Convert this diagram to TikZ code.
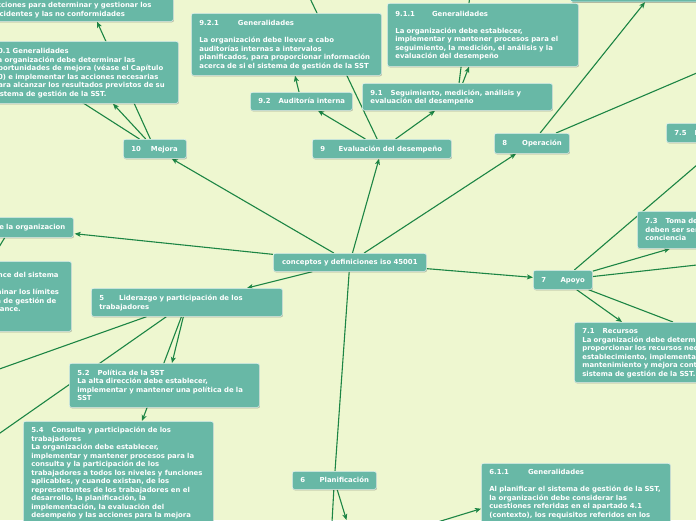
\documentclass[tikz,border=0pt]{standalone}
\usepackage{fontspec}
\setmainfont{DejaVu Sans}
\usetikzlibrary{shadows,arrows.meta,calc}
\definecolor{bgc}{RGB}{238,247,208}
\definecolor{boxc}{RGB}{104,184,166}
\definecolor{linec}{RGB}{28,133,68}
\newcommand{\gp}[1]{\hspace*{#1pt}}
\newcommand{\tl}[1]{\raisebox{0pt}[\dimexpr\height+1.6pt\relax][\depth]{\begin{tabular}{@{}l@{}}#1\end{tabular}}}
\newcommand{\tr}[1]{\raisebox{0pt}[\dimexpr\height+1.6pt\relax][\depth]{\begin{tabular}{@{}r@{}}#1\end{tabular}}}
\pgfdeclarelayer{back}
\pgfdeclarelayer{lines}
\pgfsetlayers{back,lines,main}
\begin{document}
\begin{tikzpicture}[x=1pt,y=-1pt,
  mbox/.style={draw=white!80!boxc, line width=0.7pt, fill=boxc, rounded corners=2pt,
    text=white, font=\fontsize{6.9}{8.5}\selectfont\bfseries, align=left,
    inner xsep=8pt, inner ysep=0pt, anchor=north west,
    drop shadow={shadow xshift=0.6pt,shadow yshift=-0.9pt,fill=black,opacity=0.28}},
  conn/.style={draw=linec, line width=1.1pt},
  arr/.style={conn, -{Stealth[length=6pt,width=5pt,inset=1.5pt]}},
]
\useasboundingbox (0,0) rectangle (696,520);
\begin{pgfonlayer}{back}
\fill[bgc] (0,0) rectangle (696,520);
\end{pgfonlayer}

% ---- boxes ----
\node[mbox, minimum width=189pt, minimum height=23.5pt, text width=173pt] (n102) at (-16,-2.5)
  {\tl{acciones para determinar y gestionar los\\incidentes y las no conformidades}};
\node[mbox, minimum width=193pt, minimum height=62pt, text width=177pt] (n101) at (-15,41)
  {\tl{10.1 Generalidades\\La organización debe determinar las\\oportunidades de mejora (véase el Capítulo\\10) e implementar las acciones necesarias\\para alcanzar los resultados previstos de su\\sistema de gestión de la SST.}};
\node[mbox, minimum width=190pt, minimum height=62pt, text width=174pt] (n921) at (191,13)
  {\tl{9.2.1\gp{19}Generalidades\\ \\La organización debe llevar a cabo\\auditorías internas a intervalos\\planificados, para proporcionar información\\acerca de si el sistema de gestión de la SST}};
\node[mbox, minimum width=102pt, minimum height=18pt, text width=86pt] (n92) at (250,92)
  {\tl{9.2\gp{8}Auditoría interna}};
\node[mbox, minimum width=191pt, minimum height=63pt, text width=175pt] (n911) at (387,3)
  {\tl{9.1.1\gp{17}Generalidades\\ \\La organización debe establecer,\\implementar y mantener procesos para el\\seguimiento, la medición, el análisis y la\\evaluación del desempeño}};
\node[mbox, minimum width=190pt, minimum height=27pt, text width=174pt] (n91) at (362,83)
  {\tl{9.1\gp{8}Seguimiento, medición, análisis y\\evaluación del desempeño}};
\node[mbox, minimum width=160pt, minimum height=31.5pt, text width=144pt] (ntr) at (570,-30) {};
\node[mbox, minimum width=63pt, minimum height=19pt, text width=47pt] (nmej) at (123,139)
  {\tl{10\gp{10}Mejora}};
\node[mbox, minimum width=139pt, minimum height=19pt, text width=123pt] (neval) at (312,139)
  {\tl{9\gp{13.5}Evaluación del desempeño}};
\node[mbox, minimum width=75pt, minimum height=20pt, text width=59pt] (nop) at (494,133)
  {\tl{8\gp{15}Operación}};
\node[mbox, minimum width=150pt, minimum height=19pt, text width=134pt] (n75) at (666,123)
  {\tl{7.5\gp{8}Información documentada}};
\node[mbox, minimum width=150pt, minimum height=37pt, text width=134pt] (n73) at (637,211)
  {\tl{7.3\gp{8}Toma de conciencia: los trabajadores\\deben ser sensibilizados y tomar\\conciencia}};
\node[mbox, minimum width=59pt, minimum height=19pt, text width=43pt] (napoyo) at (533,270)
  {\tl{7\gp{14.5}Apoyo}};
\node[mbox, minimum width=160pt, minimum height=60pt, text width=144pt] (n71) at (574,322)
  {\tl{7.1\gp{8}Recursos\\La organización debe determinar y\\proporcionar los recursos necesarios para el\\establecimiento, implementación,\\mantenimiento y mejora continua del\\sistema de gestión de la SST.}};
\node[mbox, align=center, minimum width=153pt, minimum height=18pt, text width=137pt] (ncen) at (273,253)
  {\tl{conceptos y definiciones iso 45001}};
\node[mbox, align=right, minimum width=193pt, minimum height=20pt, text width=177pt] (n4) at (-120,217)
  {\tr{4\gp{14}Contexto de la organizacion}};
\node[mbox, minimum width=191pt, minimum height=70pt, text width=175pt] (n43) at (-120,261)
  {\tl{4.3\gp{8}Determinación del alcance del sistema\\ \\La organización debe determinar los límites\\y la aplicabilidad del sistema de gestión de\\la SST para establecer su alcance.\\ \\ }};
\node[mbox, minimum width=191pt, minimum height=28pt, text width=175pt] (nlid) at (91,288)
  {\tl{5\gp{15}Liderazgo y participación de los\\trabajadores}};
\node[mbox, minimum width=190pt, minimum height=44pt, text width=174pt] (n52) at (69,363)
  {\tl{5.2\gp{8}Política de la SST\\La alta dirección debe establecer,\\implementar y mantener una política de la\\SST}};
\node[mbox, minimum width=190pt, minimum height=103pt, text width=174pt] (n54) at (23,421)
  {\tl{5.4\gp{8}Consulta y participación de los\\trabajadores\\La organización debe establecer,\\implementar y mantener procesos para la\\consulta y la participación de los\\trabajadores a todos los niveles y funciones\\aplicables, y cuando existan, de los\\representantes de los trabajadores en el\\desarrollo, la planificación, la\\implementación, la evaluación del\\desempeño y las acciones para la mejora}};
\node[mbox, minimum width=84pt, minimum height=18pt, text width=68pt] (nplan) at (292,471)
  {\tl{6\gp{14.5}Planificación}};
\node[mbox, minimum width=189pt, minimum height=60pt, text width=173pt] (n611) at (481,463)
  {\tl{6.1.1\gp{19}Generalidades\\ \\Al planificar el sistema de gestión de la SST,\\la organización debe considerar las\\cuestiones referidas en el apartado 4.1\\(contexto), los requisitos referidos en los}};

% ---- free ends ----
\coordinate (m3) at (-20,37);
\coordinate (e2) at (306,-10);
\coordinate (e3) at (470,-5);
\coordinate (o2) at (760,46);
\coordinate (a3) at (760,258);
\coordinate (c4) at (-4,252);
\coordinate (l3) at (-40,383);
\coordinate (l4) at (-30,454);
\coordinate (p1) at (331,540);
\coordinate (p2) at (346.5,520);
\coordinate (p3) at (405,532);

% ---- connectors ----
\begin{pgfonlayer}{lines}
\draw[arr] (ncen) -- (nmej);
\draw[arr] (ncen) -- (neval);
\draw[arr] (ncen) -- (nop);
\draw[arr] (ncen) -- (napoyo);
\draw[arr] (ncen) -- ($(n4.south east)+(1,-4)$);
\draw[arr] (ncen) -- ($(nlid.north west)+(156,0)$);
\draw[conn] (ncen) -- (nplan);

\draw[arr] (nmej) -- ($(n101.south west)+(128,0)$);
\draw[arr] (nmej) -- ($(n102.south west)+(113,0)$);
\draw[conn] (nmej) -- (m3);

\draw[arr] (neval) -- ($(n92.south west)+(68,0)$);
\draw[conn] (neval) -- (e2);
\draw[arr] (neval) -- ($(n91.south west)+(73,0)$);
\draw[arr] (n92) -- ($(n921.south west)+(104,0)$);
\draw[arr] (n91) -- ($(n911.south west)+(82,0)$);
\draw[conn] (n91) -- (e3);

\draw[arr] (nop) -- ($(ntr.south west)+(75,0)$);
\draw[conn] (nop) -- (o2);

\draw[conn] (napoyo) -- ($(n75.south west)+(57,0)$);
\draw[arr] (napoyo) -- ($(n73.south west)+(33,0)$);
\draw[conn] (napoyo) -- (a3);
\draw[conn] (napoyo) -- ($(n71.north west)+(99,0)$);
\draw[arr] (napoyo) -- ($(n71.north west)+(48,0)$);

\draw[conn] ($(n4.south east)+(-69,0)$) -- (c4);

\draw[arr] (nlid) -- ($(n52.north west)+(103,0)$);
\draw[arr] (nlid) -- ($(n54.north west)+(119,0)$);
\draw[conn] (nlid) -- (l3);
\draw[conn] (nlid) -- (l4);

\draw[conn] (nplan) -- (p1);
\draw[arr] (nplan) -- (p2);
\draw[arr] (p3) -- ($(n611.south west)+(0,-15)$);
\end{pgfonlayer}
\end{tikzpicture}
\end{document}
